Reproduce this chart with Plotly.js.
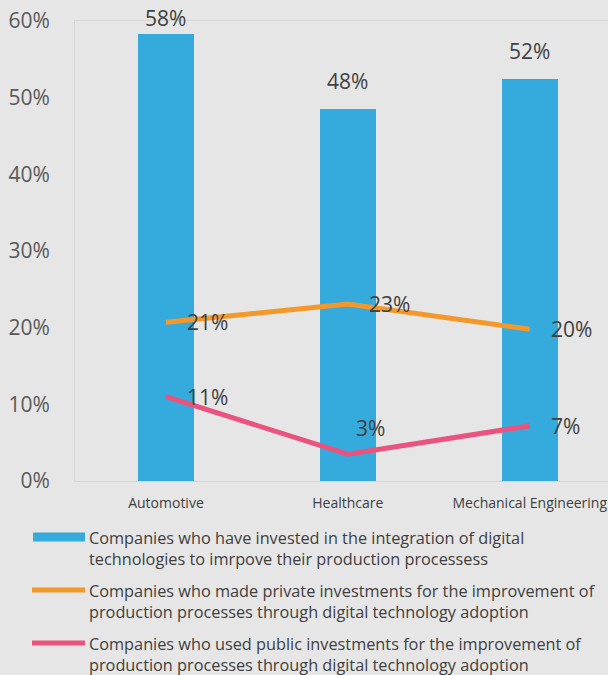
<!DOCTYPE html>
<html>
<head>
<meta charset="utf-8">
<script src="https://cdn.plot.ly/plotly-3.0.1.min.js"></script>
<style>
  html, body { margin: 0; padding: 0; background: #e6e6e6; }
  #chart { width: 608px; height: 675px; }
</style>
</head>
<body>
<div id="chart"></div>
<script>
// ---- data ----
const categories = ['Automotive', 'Healthcare', 'Mechanical Engineering'];
const integrated = [58.3, 48.5, 52.4];
const privateInv = [20.7, 23.1, 19.8];
const publicInv = [11.0, 3.5, 7.2];
const integratedLabels = ['58%', '48%', '52%'];
const privateLabels = ['21%', '23%', '20%'];
const publicLabels = ['11%', '3%', '7%'];
const seriesNames = [
  'Companies who have invested in the integration of digital<br>technologies to imrpove their production processess',
  'Companies who made private investments for the improvement of<br>production processes through digital technology adoption',
  'Companies who used public investments for the improvement of<br>production processes through digital technology adoption'
];
const yTicks = [0, 10, 20, 30, 40, 50, 60];
const yTickLabels = ['0%', '10%', '20%', '30%', '40%', '50%', '60%'];

// ---- styles ----
const colors = ['#35aadc', '#f4982a', '#e9537e'];
const W = 608, H = 675;
const M = { l: 75, r: 0, t: 21, b: 194 };
const pw = W - M.l - M.r, ph = H - M.t - M.b;
const px2x = px => (px - M.l) / pw;
const py2y = py => (H - M.b - py) / ph;
const FONT = 'Open Sans, DejaVu Sans, sans-serif';

const traces = [
  { type: 'bar', x: categories, y: integrated, name: seriesNames[0],
    marker: { color: colors[0] }, width: 0.31, hoverinfo: 'skip' },
  { type: 'scatter', mode: 'lines', x: categories, y: privateInv, name: seriesNames[1],
    line: { color: colors[1], width: 5 }, hoverinfo: 'skip' },
  { type: 'scatter', mode: 'lines', x: categories, y: publicInv, name: seriesNames[2],
    line: { color: colors[2], width: 5 }, hoverinfo: 'skip' }
];

const annotations = [];
const labelFont = { family: FONT, size: 21, color: '#404040' };
categories.forEach((c, i) => {
  annotations.push({ x: c, y: Math.min(integrated[i] + 1.6, 58.3), xref: 'x', yref: 'y',
    text: integratedLabels[i], showarrow: false, xanchor: 'center', yanchor: 'bottom',
    font: labelFont });
});
[[privateInv, privateLabels], [publicInv, publicLabels]].forEach(([vals, labs]) => {
  categories.forEach((c, i) => {
    const lifted = vals[i] < 5;
    annotations.push({ x: c, y: vals[i], xref: 'x', yref: 'y', text: labs[i], showarrow: false,
      xanchor: 'left', yanchor: 'middle', xshift: lifted ? 6 : 19, yshift: lifted ? 26 : 0,
      font: labelFont });
  });
});

// manual legend
const shapes = [];
const legendY = [537, 590, 643];
legendY.forEach((cy, i) => {
  if (i === 0) {
    shapes.push({ type: 'rect', xref: 'paper', yref: 'paper',
      x0: px2x(33), x1: px2x(85), y0: py2y(cy - 4.5), y1: py2y(cy + 4.5),
      fillcolor: colors[0], line: { width: 0 } });
  } else {
    shapes.push({ type: 'line', xref: 'paper', yref: 'paper',
      x0: px2x(32), x1: px2x(85), y0: py2y(cy), y1: py2y(cy),
      line: { color: colors[i], width: 5 } });
  }
  annotations.push({ xref: 'paper', yref: 'paper', x: px2x(87), y: py2y(cy - 12),
    xanchor: 'left', yanchor: 'top', align: 'left', showarrow: false,
    text: seriesNames[i], font: { family: FONT, size: 16.3, color: '#404040' } });
});

const layout = {
  width: W, height: H,
  margin: M,
  paper_bgcolor: '#e6e6e6', plot_bgcolor: '#e6e6e6',
  showlegend: false,
  bargap: 0,
  xaxis: {
    type: 'category', range: [-0.5, 2.43], showgrid: false, zeroline: false,
    showline: true, mirror: true, linecolor: '#d6d6d6', linewidth: 1,
    ticks: '', ticklabelstandoff: 9,
    tickfont: { family: FONT, size: 14, color: '#404040' }, fixedrange: true
  },
  yaxis: {
    range: [0, 60], tickmode: 'array', tickvals: yTicks, ticktext: yTickLabels,
    showgrid: false, zeroline: false,
    showline: true, mirror: true, linecolor: '#d6d6d6', linewidth: 1,
    ticks: '', ticklabelstandoff: 20,
    tickfont: { family: FONT, size: 21, color: '#595959' }, fixedrange: true
  },
  annotations, shapes
};

Plotly.newPlot('chart', traces, layout, { displayModeBar: false, staticPlot: true });
</script>
</body>
</html>
